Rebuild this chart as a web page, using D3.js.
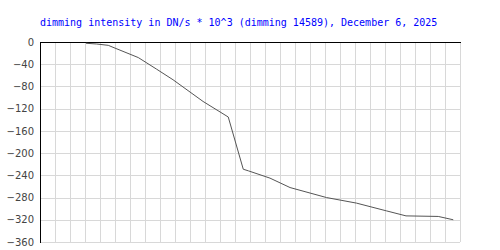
<!DOCTYPE html>
<html><head><meta charset="utf-8">
<script src="https://cdn.jsdelivr.net/npm/d3@7"></script>
<style>html,body{margin:0;padding:0;background:#fff;}</style>
</head><body>
<svg id="c" width="500" height="250"></svg>
<script>
const title = "dimming intensity in DN/s * 10^3 (dimming 14589), December 6, 2025";
const xPos = [3.07, 3.78, 4.55, 5.0, 6.55, 7.78, 8.87, 10.87, 12.55, 13.55, 13.9, 15.33, 16.67, 19.1, 21.1, 23.1, 24.4, 26.55, 27.55];
const values = [-2.3, -3.6, -6, -11, -28, -49, -68, -107, -135, -229, -232, -245, -262, -280, -290, -304, -313, -314, -320];
const yTicks = [0, -40, -80, -120, -160, -200, -240, -280, -320, -360];
const xGrid = d3.range(0, 29);

const svg = d3.select("#c");
const L = 40, T = 42, R = 460, B = 242;
const x = d3.scaleLinear().domain([0, 28]).range([L, R]);
const y = d3.scaleLinear().domain([0, -360]).range([T, B]);

svg.append("text").attr("x", 40).attr("y", 26)
  .attr("font-family", "DejaVu Sans Mono").attr("font-size", 10)
  .attr("fill", "#0000ff").text(title);

const g = svg.append("g").attr("shape-rendering", "crispEdges");
g.selectAll(".vg").data(xGrid).join("line")
  .attr("x1", d => Math.round(x(d)) + 0.5).attr("x2", d => Math.round(x(d)) + 0.5)
  .attr("y1", T).attr("y2", B)
  .attr("stroke", "#d8d8d8");
g.selectAll(".hg").data(yTicks).join("line")
  .attr("x1", L).attr("x2", R)
  .attr("y1", d => Math.round(y(d)) + 0.5).attr("y2", d => Math.round(y(d)) + 0.5)
  .attr("stroke", "#d8d8d8");

const axis = d3.axisLeft(y).tickValues(yTicks).tickSize(0).tickPadding(6).tickFormat(d3.format("d"));
const ag = svg.append("g").attr("transform", `translate(${L},0)`).call(axis);
ag.select(".domain").remove();
ag.selectAll("text").attr("font-family", "DejaVu Sans").attr("font-size", 10).attr("fill", "#444");

g.append("line").attr("x1", L + 0.5).attr("x2", L + 0.5).attr("y1", T).attr("y2", B + 1).attr("stroke", "#000");
g.append("line").attr("x1", L).attr("x2", R + 1).attr("y1", T + 0.5).attr("y2", T + 0.5).attr("stroke", "#000");

const line = d3.line().x((d, i) => x(xPos[i])).y(d => y(d));
svg.append("path").datum(values).attr("d", line)
  .attr("fill", "none").attr("stroke", "#555").attr("stroke-width", 1);
</script>
</body></html>
